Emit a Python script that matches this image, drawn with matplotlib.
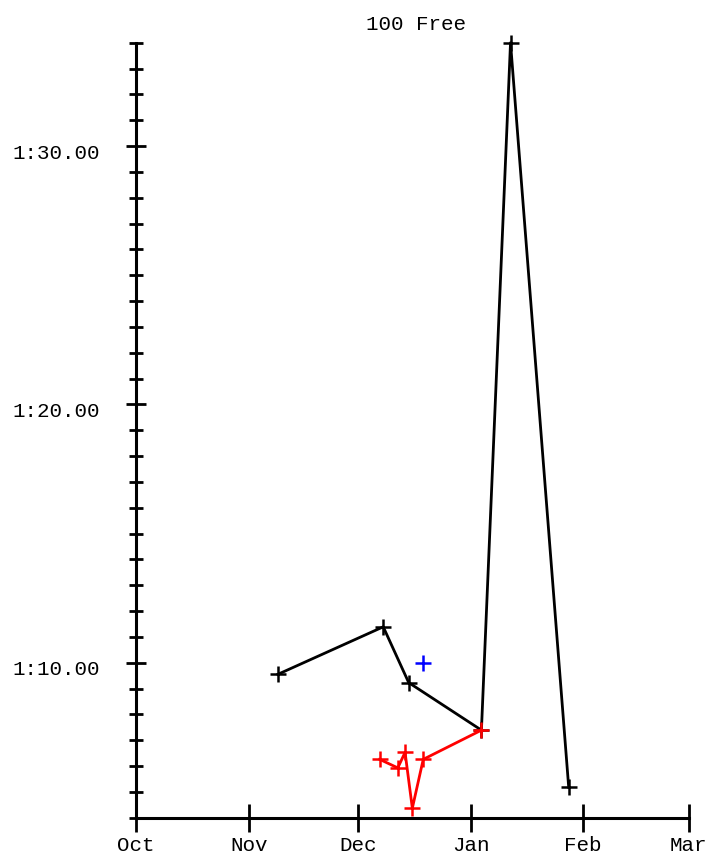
import datetime as dt
import matplotlib
matplotlib.use("Agg")
import matplotlib.pyplot as plt
import matplotlib.dates as mdates
from matplotlib.ticker import MultipleLocator, FuncFormatter
from matplotlib.transforms import ScaledTranslation

# swim times (seconds) by meet date
black_dates = ["2011-11-09", "2011-12-08", "2011-12-15", "2012-01-04", "2012-01-12", "2012-01-28"]
black_times = [69.55, 71.39, 69.23, 67.39, 94.0, 65.18]

red_dates = ["2011-12-07", "2011-12-12", "2011-12-14", "2011-12-16", "2011-12-19", "2012-01-04"]
red_times = [66.26, 65.93, 66.53, 64.37, 66.26, 67.39]

blue_dates = ["2011-12-19"]
blue_times = [70.0]


def to_dates(lst):
	return [dt.datetime.strptime(s, "%Y-%m-%d") for s in lst]


def fmt_time(v, pos):
	m = int(v // 60)
	s = v - m * 60
	return "%d:%05.2f" % (m, s)


plt.rcParams['font.family'] = ['Liberation Mono', 'DejaVu Sans Mono']

fig = plt.figure(figsize=(7.1, 8.54), dpi=100)
ax = fig.add_axes([0.1915, 0.0413, 0.970 - 0.1915, 0.9488 - 0.0413])

mk = dict(marker="+", ms=11, mew=1.8, clip_on=False)
ax.plot(to_dates(black_dates), black_times, color="black", lw=2, **mk)
ax.plot(to_dates(red_dates), red_times, color="red", lw=2, zorder=3, **mk)
ax.plot(to_dates(blue_dates), blue_times, color="blue", lw=0, **mk)

ax.set_xlim(dt.datetime(2011, 10, 1), dt.datetime(2012, 3, 1))
ax.set_ylim(64, 94)

ax.xaxis.set_major_locator(mdates.MonthLocator())
ax.xaxis.set_major_formatter(mdates.DateFormatter("%b"))
ax.yaxis.set_major_locator(MultipleLocator(10))
ax.yaxis.set_minor_locator(MultipleLocator(1))
ax.yaxis.set_major_formatter(FuncFormatter(fmt_time))

for side in ["top", "right"]:
	ax.spines[side].set_visible(False)
for side in ["left", "bottom"]:
	ax.spines[side].set_linewidth(2.2)

ax.tick_params(axis="y", which="major", direction="inout", length=14, width=2, labelsize=15, pad=19)
ax.tick_params(axis="y", which="minor", direction="inout", length=9.5, width=2)
ax.tick_params(axis="x", which="major", direction="inout", length=20, width=2, labelsize=15, pad=2.5)

fig.text(416 / 710, 1 - 24 / 854, "100 Free", ha="center", va="center", fontsize=15)

# y labels sit a little below their ticks in the original
fig.canvas.draw()
shift = ScaledTranslation(0, -4 / 100, fig.dpi_scale_trans)
for lbl in ax.get_yticklabels():
	lbl.set_transform(lbl.get_transform() + shift)

fig.savefig("out.png", dpi=100)
